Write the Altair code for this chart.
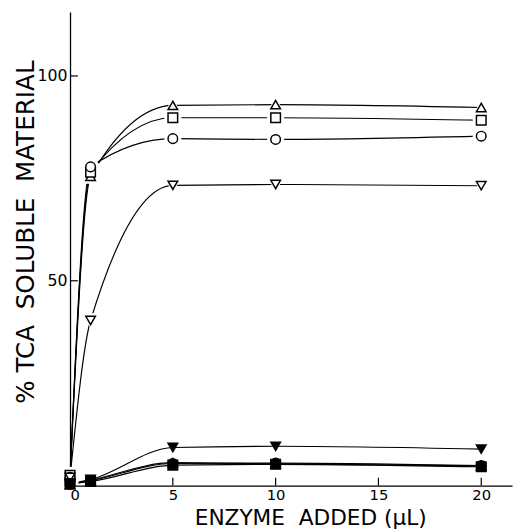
import altair as alt
import pandas as pd

x_vals = [0, 1, 5, 10, 20]
series_names = ["tri_up_open", "square_open", "circle_open", "tri_down_open",
                "tri_down_filled", "circle_filled", "square_filled", "tri_up_filled"]
tri_up_open = [2.0, 75.5, 92.8, 93.0, 92.3]
square_open = [2.5, 76.5, 89.8, 89.8, 89.2]
circle_open = [2.0, 77.8, 84.7, 84.5, 85.3]
tri_down_open = [2.0, 40.3, 73.3, 73.5, 73.2]
tri_down_filled = [0.5, 1.5, 9.3, 9.6, 8.9]
circle_filled = [0.3, 1.2, 5.4, 5.5, 4.9]
square_filled = [0.5, 1.0, 5.0, 5.2, 4.6]
tri_up_filled = [0.2, 1.3, 5.6, 5.3, 4.8]
shapes = ["triangle-up", "square", "circle", "triangle-down",
          "triangle-down", "circle", "square", "triangle-up"]
fills = ["white"] * 4 + ["black"] * 4
widths = [1.2, 1.2, 1.2, 1.0, 1.3, 2.2, 2.2, 2.2]

x_ticks = [0, 5, 10, 15, 20]
y_ticks = [50, 100]

all_series = [tri_up_open, square_open, circle_open, tri_down_open,
              tri_down_filled, circle_filled, square_filled, tri_up_filled]
rows = []
for name, vals in zip(series_names, all_series):
    for xv, yv in zip(x_vals, vals):
        rows.append({"series": name, "x": xv, "y": yv, "open": name.endswith("open")})
df = pd.DataFrame(rows)

W, H = 449, 481
FONT = "DejaVu Sans"
xs = alt.Scale(domain=[0, 21.5], nice=False, zero=False)
ys = alt.Scale(domain=[0, 115.6], nice=False, zero=False)

x_axis = alt.Axis(
    values=x_ticks, ticks=False, grid=False, domainColor="black", domainWidth=1.3,
    labelFont=FONT, labelFontSize=15, labelColor="black", labelPadding=2,
    title="ENZYME\u00a0\u00a0ADDED (μL)", titleFont=FONT, titleFontSize=22, titleFontWeight="normal",
    titleColor="black", titleX=244, titleY=40, titleBaseline="alphabetic", titleAlign="center")
y_axis = alt.Axis(
    values=y_ticks, ticks=False, grid=False, domainColor="black", domainWidth=1.3,
    labelFont=FONT, labelFontSize=16, labelColor="black", labelPadding=3,
    title="%\u00a0TCA\u00a0\u00a0SOLUBLE\u00a0\u00a0MATERIAL", titleFont=FONT, titleFontSize=25,
    titleFontWeight="normal", titleColor="black", titleX=-37, titleY=223, titleAngle=270,
    titleBaseline="alphabetic", titleAlign="center")

X = alt.X("x:Q", scale=xs, axis=x_axis)
Y = alt.Y("y:Q", scale=ys, axis=y_axis)
shape_enc = alt.Shape("series:N", scale=alt.Scale(domain=series_names, range=shapes), legend=None)

base = alt.Chart(df)
lines = base.mark_line(interpolate="monotone", color="black").encode(
    x=X, y=Y, detail="series:N",
    strokeWidth=alt.StrokeWidth("series:N", scale=alt.Scale(domain=series_names, range=widths), legend=None))

halo = base.transform_filter("datum.open").mark_point(filled=True, color="white", size=300, opacity=1).encode(
    x=X, y=Y, shape=shape_enc)

points = base.mark_point(filled=True, stroke="black", strokeWidth=1.5, size=95, opacity=1).encode(
    x=X, y=Y, shape=shape_enc,
    fill=alt.Fill("series:N", scale=alt.Scale(domain=series_names, range=fills), legend=None))

xt = alt.Chart(pd.DataFrame({"x": x_ticks[1:]})).mark_rule(color="black", strokeWidth=1.2).encode(
    x=X, y=alt.value(H), y2=alt.value(H - 8))
yt = alt.Chart(pd.DataFrame({"y": y_ticks})).mark_rule(color="black", strokeWidth=1.2).encode(
    y=Y, x=alt.value(0), x2=alt.value(8))

chart = alt.layer(lines, halo, points, xt, yt).properties(
    width=W, height=H, autosize="none",
    padding={"left": 63, "top": 0, "right": 5, "bottom": 42},
    background="white"
).configure_view(stroke=None)

chart.save("out.html", embed_options={"renderer": "svg", "actions": False})
